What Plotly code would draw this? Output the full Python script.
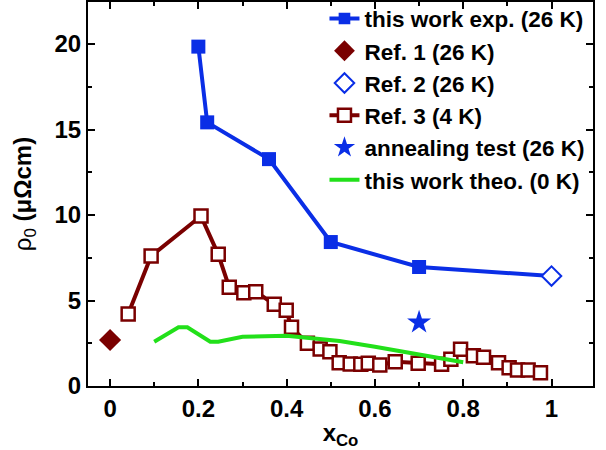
import plotly.graph_objects as go

# this work exp. (26 K) ; last point joins Ref. 2 (line only)
exp_x = [0.20, 0.22, 0.36, 0.50, 0.70, 1.00]
exp_y = [19.85, 15.42, 13.27, 8.42, 6.96, 6.43]
exp_marker_size = [14, 14, 14, 14, 14, 0]

ref1_x = [0.0]
ref1_y = [2.69]

ref2_x = [1.0]
ref2_y = [6.43]

ref3_x = [0.041, 0.093, 0.206, 0.245, 0.27, 0.303, 0.33, 0.372, 0.399, 0.411,
          0.447, 0.476, 0.498, 0.519, 0.544, 0.568, 0.585, 0.611, 0.646, 0.698,
          0.751, 0.772, 0.794, 0.823, 0.846, 0.880, 0.904, 0.923, 0.947, 0.975]
ref3_y = [4.21, 7.60, 9.94, 7.70, 5.77, 5.46, 5.51, 4.78, 4.43, 3.43,
          2.50, 2.16, 2.01, 1.36, 1.29, 1.27, 1.33, 1.23, 1.42, 1.33,
          1.27, 1.56, 2.15, 1.77, 1.68, 1.36, 1.07, 0.94, 0.94, 0.78]

anneal_x = [0.70]
anneal_y = [3.72]

theo_x = [0.10, 0.155, 0.175, 0.227, 0.245, 0.30, 0.40, 0.48, 0.52, 0.60, 0.70, 0.80]
theo_y = [2.59, 3.43, 3.43, 2.59, 2.59, 2.88, 2.94, 2.75, 2.63, 2.30, 1.86, 1.39]

names = ["this work exp. (26 K)", "Ref. 1 (26 K)", "Ref. 2 (26 K)", "Ref. 3 (4 K)",
         "annealing test (26 K)", "this work theo. (0 K)"]

BLUE = "#0a2ee6"
MAROON = "#7a0000"
GREEN = "#22e01a"

fig = go.Figure()
fig.add_trace(go.Scatter(x=exp_x, y=exp_y, mode="lines+markers", name="<b>%s</b>" % names[0],
                         line=dict(color=BLUE, width=4),
                         marker=dict(symbol="square", size=exp_marker_size, color=BLUE, opacity=1,
                                     line=dict(width=0))))
fig.add_trace(go.Scatter(x=ref1_x, y=ref1_y, mode="markers", name="<b>%s</b>" % names[1],
                         marker=dict(symbol="diamond", size=17, color=MAROON, opacity=1)))
fig.add_trace(go.Scatter(x=ref2_x, y=ref2_y, mode="markers", name="<b>%s</b>" % names[2],
                         marker=dict(symbol="diamond", size=15, color="white", opacity=1,
                                     line=dict(color=BLUE, width=2))))
fig.add_trace(go.Scatter(x=ref3_x, y=ref3_y, mode="lines+markers", name="<b>%s</b>" % names[3],
                         line=dict(color=MAROON, width=4),
                         marker=dict(symbol="square", size=13, color="white", opacity=1,
                                     line=dict(color=MAROON, width=2.5))))
fig.add_trace(go.Scatter(x=anneal_x, y=anneal_y, mode="markers", name="<b>%s</b>" % names[4],
                         marker=dict(symbol="star", size=18, color=BLUE, opacity=1)))
fig.add_trace(go.Scatter(x=theo_x, y=theo_y, mode="lines", name="<b>%s</b>" % names[5],
                         line=dict(color=GREEN, width=4)))

font = dict(family="Liberation Sans, Arial", size=24, color="black")

fig.update_layout(
    width=606, height=450,
    margin=dict(l=88, r=13, t=2, b=64, autoexpand=False),
    paper_bgcolor="white", plot_bgcolor="white",
    font=font,
    showlegend=True,
    legend=dict(x=0.995, xanchor="right", y=1.012, yanchor="top",
                bgcolor="rgba(0,0,0,0)", font=dict(family="Liberation Sans, Arial", size=22.5),
                tracegroupgap=0, itemwidth=30),
)
fig.update_xaxes(
    range=[-0.05, 1.094], showgrid=False, zeroline=False,
    showline=True, linecolor="black", linewidth=2, mirror="ticks",
    ticks="inside", ticklen=7, tickwidth=2, tickcolor="black",
    tickvals=[0, 0.2, 0.4, 0.6, 0.8, 1.0], ticktext=["<b>0</b>", "<b>0.2</b>", "<b>0.4</b>", "<b>0.6</b>", "<b>0.8</b>", "<b>1</b>"],
    minor=dict(tickvals=[0.1, 0.3, 0.5, 0.7, 0.9], ticks="inside", ticklen=4, tickwidth=2, tickcolor="black"),
    title=dict(text="<b>x<sub>Co</sub></b>", font=font, standoff=0),
)
fig.update_yaxes(
    range=[0, 22.46], showgrid=False, zeroline=False,
    showline=True, linecolor="black", linewidth=2, mirror="ticks",
    ticks="inside", ticklen=7, tickwidth=2, tickcolor="black",
    tickvals=[0, 5, 10, 15, 20], ticktext=["<b>0</b>", "<b>5</b>", "<b>10</b>", "<b>15</b>", "<b>20</b>"],
    minor=dict(tickvals=[2.5, 7.5, 12.5, 17.5], ticks="inside", ticklen=4, tickwidth=2, tickcolor="black"),
    title=dict(text="ρ<sub>0</sub> <b>(μΩcm)</b>", font=font, standoff=16),
)

fig.write_html("out.html")
